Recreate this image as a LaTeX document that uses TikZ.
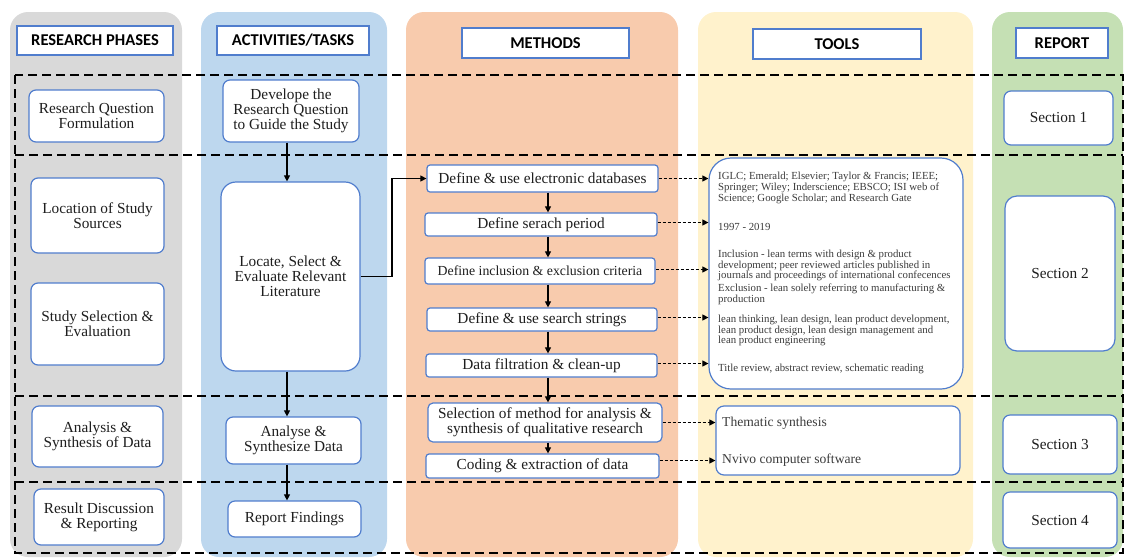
\documentclass[tikz,border=0pt]{standalone}
\usepackage{fontspec}
\setmainfont{Liberation Serif}
\newfontfamily\hdfont{Carlito}
\usetikzlibrary{arrows.meta}
\definecolor{cgrey}{HTML}{D9D9D9}
\definecolor{cblue}{HTML}{BDD7EE}
\definecolor{corange}{HTML}{F8CBAD}
\definecolor{cyellow}{HTML}{FFF2CC}
\definecolor{cgreen}{HTML}{C5E0B4}
\definecolor{bcol}{RGB}{80,125,205}
\definecolor{txt}{RGB}{30,30,30}
\definecolor{ttxt}{RGB}{60,60,60}
\begin{document}
\begin{tikzpicture}[x=1pt,y=-1pt,
  col/.style={rounded corners=18pt},
  hdr/.style={draw=bcol, line width=1.3pt, fill=white, inner sep=0pt, text=black,
    font=\hdfont\bfseries\fontsize{16.5}{18}\selectfont},
  box/.style={draw=bcol, line width=1.2pt, fill=white, rounded corners=7pt, align=center,
    inner sep=0pt, text=txt, font=\fontsize{15.3}{15}\selectfont},
  obox/.style={box, rounded corners=3pt},
  ttext/.style={anchor=west, align=left, inner sep=0pt, text=ttxt, font=\fontsize{10.8}{10.6}\selectfont},
  ttext2/.style={anchor=west, align=left, inner sep=0pt, text=ttxt, font=\fontsize{13.6}{15}\selectfont},
  arr/.style={-{Triangle[length=6pt,width=6pt]}, line width=1.1pt},
  darr/.style={-{Triangle[length=6pt,width=6pt]}, line width=1.1pt, dash pattern=on 3pt off 2pt},
  rowline/.style={line width=1.8pt, dash pattern=on 9pt off 5pt}
]
\useasboundingbox (0,0) rectangle (1125,558);
% columns
\fill[cgrey,col] (10,12) rectangle (182,557);
\fill[cblue,col] (201,12) rectangle (387,557);
\fill[corange,col] (406,12) rectangle (678,557);
\fill[cyellow,col] (698,12) rectangle (973,557);
\fill[cgreen,col] (992,12) rectangle (1123,557);
% headers
\node[hdr, minimum width=156, minimum height=29] (h1) at (95,40.5) {RESEARCH PHASES};
\node[hdr, minimum width=152, minimum height=29] (h2) at (293,40.5) {ACTIVITIES/TASKS};
\node[hdr, minimum width=167, minimum height=30] (h3) at (545.5,43) {METHODS};
\node[hdr, minimum width=168, minimum height=30] (h4) at (837,44) {TOOLS};
\node[hdr, minimum width=92, minimum height=30] (h5) at (1062,43) {REPORT};
% dashed rows
\draw[rowline] (15,75) rectangle (1123,553);
\draw[rowline] (15,155) -- (1123,155);
\draw[rowline] (15,396) -- (1123,396);
\draw[rowline] (15,482) -- (1123,482);
% research phases
\node[box, minimum width=135, minimum height=52] (rq) at (96.5,116) {Research Question\\Formulation};
\node[box, minimum width=133, minimum height=75] (ls) at (97.5,215.5) {Location of Study\\Sources};
\node[box, minimum width=133, minimum height=82] (ss) at (97.5,324) {Study Selection \&\\Evaluation};
\node[box, minimum width=131, minimum height=61] (an) at (97.5,436.5) {Analysis \&\\Synthesis of Data};
\node[box, minimum width=130, minimum height=56] (rd) at (99,517) {Result Discussion\\\& Reporting};
% activities
\node[box, minimum width=136, minimum height=62] (dev) at (291,111) {Develope the\\Research Question\\to Guide the Study};
\node[box, rounded corners=15pt, minimum width=139, minimum height=189] (loc) at (290.5,276.5) {Locate, Select \&\\Evaluate Relevant\\Literature};
\node[box, minimum width=135, minimum height=47] (ana) at (293.5,440.5) {Analyse \&\\Synthesize Data};
\node[box, minimum width=133, minimum height=36] (rf) at (294.5,519) {Report Findings};
\coordinate (bx) at (287,0);
\draw[arr] (dev.south -| bx) -- (loc.north -| bx);
\draw[arr] (loc.south -| bx) -- (ana.north -| bx);
\draw[arr] (ana.south -| bx) -- (rf.north -| bx);
% methods
\node[obox, minimum width=231, minimum height=27] (db) at (542.5,178.5) {Define \& use electronic databases};
\node[obox, minimum width=232, minimum height=23] (sp) at (541,224.5) {Define serach period};
\node[obox, minimum width=230, minimum height=26, font=\fontsize{13.8}{15}\selectfont] (ie) at (540,271) {Define inclusion \& exclusion criteria};
\node[obox, minimum width=230, minimum height=23] (st) at (542,319.5) {Define \& use search strings};
\node[obox, minimum width=231, minimum height=23] (df) at (541.5,365.5) {Data filtration \& clean-up};
\node[obox, rounded corners=5pt, minimum width=234, minimum height=39] (sel) at (545,422.5) {Selection of method for analysis \&\\synthesis of qualitative research};
\node[obox, minimum width=233, minimum height=24] (cod) at (542.5,466) {Coding \& extraction of data};
\coordinate (ox) at (548,0);
\draw[arr] (db.south -| ox) -- (sp.north -| ox);
\draw[arr] (sp.south -| ox) -- (ie.north -| ox);
\draw[arr] (ie.south -| ox) -- (st.north -| ox);
\draw[arr] (st.south -| ox) -- (df.north -| ox);
\draw[arr] (df.south -| ox) -- (sel.north -| ox);
\draw[arr] (sel.south -| ox) -- (cod.north -| ox);
\coordinate (lx) at (392,0);
\draw[arr] (loc.east) -- (loc.east -| lx) |- (db.west);
% tools
\node[draw=bcol, line width=1.2pt, fill=white, rounded corners=22pt, minimum width=254, minimum height=231, inner sep=0pt] (tb) at (836,273.5) {};
\node[draw=bcol, line width=1.2pt, fill=white, rounded corners=8pt, minimum width=244, minimum height=69, inner sep=0pt] (ts) at (838,440.5) {};
\node[ttext] (t1) at (718,188) {IGLC; Emerald; Elsevier; Taylor \& Francis; IEEE;\\Springer; Wiley; Inderscience; EBSCO; ISI web of\\Science; Google Scholar; and Research Gate};
\node[ttext] (t2) at (718,227) {1997 - 2019};
\node[ttext] (t3) at (718,265.5) {Inclusion - lean terms with design \& product\\development; peer reviewed articles published in\\journals and proceedings of international confecences};
\node[ttext] (t4) at (718,294.5) {Exclusion - lean solely referring to manufacturing \&\\production};
\node[ttext] (t5) at (718,330.5) {lean thinking, lean design, lean product development,\\lean product design, lean design management and\\lean product engineering};
\node[ttext] (t6) at (718,369) {Title review, abstract review, schematic reading};
\node[ttext2] (th) at (722,423) {Thematic synthesis};
\node[ttext2] (nv) at (722,460) {Nvivo computer software};
\draw[darr] (db.east) -- (db.east -| tb.west);
\draw[darr] ([yshift=2pt]sp.east) -- ([yshift=2pt]sp.east -| tb.west);
\draw[darr] ([yshift=1.5pt]ie.east) -- ([yshift=1.5pt]ie.east -| tb.west);
\draw[darr] ([yshift=2pt]st.east) -- ([yshift=2pt]st.east -| tb.west);
\draw[darr] ([yshift=2pt]df.east) -- ([yshift=2pt]df.east -| tb.west);
\draw[darr] (sel.east) -- (sel.east -| ts.west);
\draw[darr] ([yshift=5.5pt]cod.east) -- ([yshift=5.5pt]cod.east -| ts.west);
% report
\node[box, minimum width=109, minimum height=54] (s1) at (1058.5,118) {Section 1};
\node[box, rounded corners=12pt, minimum width=110, minimum height=155] (s2) at (1060,273.5) {Section 2};
\node[box, minimum width=114, minimum height=59] (s3) at (1060,444.5) {Section 3};
\node[box, minimum width=114, minimum height=56] (s4) at (1060,520) {Section 4};
\end{tikzpicture}
\end{document}
